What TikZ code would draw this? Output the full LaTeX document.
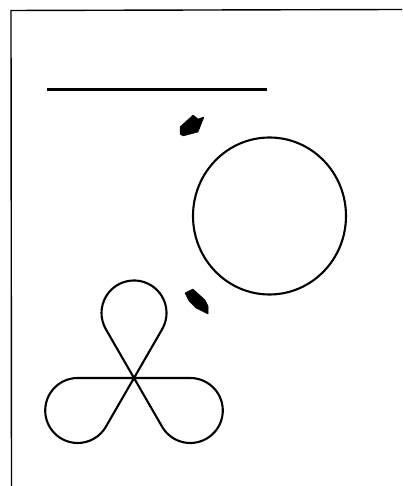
\documentclass[tikz,border=0pt]{standalone}
\begin{document}
\begin{tikzpicture}[x=1pt,y=1pt,
  frameline/.style={line width=1.4pt},
  curve/.style={line width=2.1pt, line join=round, line cap=round},
  blob/.style={fill=black, draw=black, line width=0.5pt, line join=round}]
\useasboundingbox (0,0) rectangle (402,486);
% frame
\coordinate (tr) at (402,476.5);
\coordinate (tl) at (11,475.5);
\coordinate (bl) at (11.5,0);
\draw[frameline] (tr) -- (tl) -- (bl);
% straight line
\coordinate (la) at (47,396.5);
\coordinate (lb) at (267,396.5);
\draw[curve, line cap=butt, line width=2.2pt] (la) -- (lb);
% circle
\coordinate (C) at (269.5,270);
\draw[curve] (C) ellipse [x radius=76.5pt, y radius=78.5pt];
% arrows
\draw[blob] (180,359) -- (193,371) -- (198,367) -- (204,369) -- (198,354) -- (183,350) -- (180,352) -- cycle;
\draw[blob] (185,193) -- (193,197) -- (205,186) -- (208,180) -- (208,172) -- (202,175) -- (196,178) -- (189,185) -- cycle;
% trefoil
\coordinate (O) at (134,108);
\draw[curve] (O) -- ++(60:56.29pt) arc[start angle=-30, end angle=210, radius=32.5pt]
  -- (O) -- ++(300:56.29pt) arc[start angle=210, end angle=450, radius=32.5pt]
  -- (O) -- ++(180:56.29pt) arc[start angle=90, end angle=330, radius=32.5pt]
  -- cycle;
\end{tikzpicture}
\end{document}
